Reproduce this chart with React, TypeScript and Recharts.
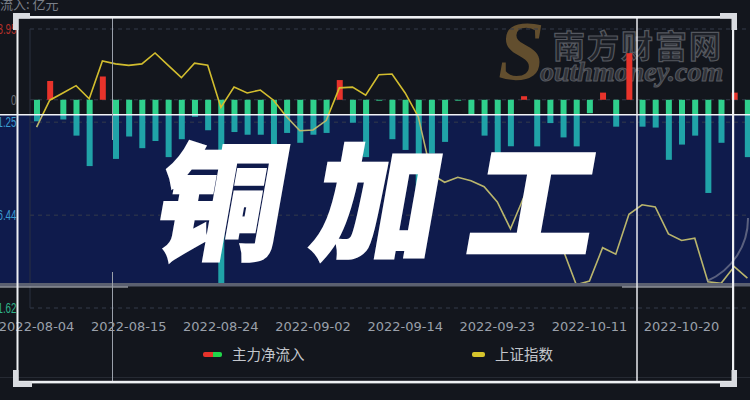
import React from 'react';
import { ComposedChart, Bar, Line, XAxis, YAxis, CartesianGrid, Cell } from 'recharts';

const dates = [
  '2022-08-04','2022-08-05','2022-08-08','2022-08-09','2022-08-10','2022-08-11','2022-08-12','2022-08-15','2022-08-16','2022-08-17',
  '2022-08-18','2022-08-19','2022-08-22','2022-08-23','2022-08-24','2022-08-25','2022-08-26','2022-08-29','2022-08-30','2022-08-31',
  '2022-09-01','2022-09-02','2022-09-05','2022-09-06','2022-09-07','2022-09-08','2022-09-09','2022-09-13','2022-09-14','2022-09-15',
  '2022-09-16','2022-09-19','2022-09-20','2022-09-21','2022-09-22','2022-09-23','2022-09-26','2022-09-27','2022-09-28','2022-09-29',
  '2022-09-30','2022-10-10','2022-10-11','2022-10-12','2022-10-13','2022-10-14','2022-10-17','2022-10-18','2022-10-19','2022-10-20',
  '2022-10-21','2022-10-24','2022-10-25','2022-10-26','2022-10-27',
];

// 主力净流入 (亿元)
const mainFlow = [
  -1.2, 1.05, -1.1, -2.0, -3.7, 1.3, -3.3, -2.05, -2.7, -2.3,
  -3.2, -2.2, -0.95, -1.7, -10.3, -1.8, -1.95, -1.95, -3.6, -1.85,
  -2.4, -1.95, -1.85, 1.1, -1.28, -3.2, -0.05, -2.2, -2.8, -8.0,
  -3.0, -2.35, -0.05, -0.8, -2.0, -3.7, -2.6, 0.2, -2.6, -1.3,
  -2.1, -2.6, -0.75, 0.4, -1.5, 2.6, -1.5, -1.55, -3.35, -2.5,
  -2.0, -5.2, -2.4, 0.4, -3.2,
];

// 上证指数
const sseIndex = [
  3191, 3228, 3238, 3248, 3230, 3282, 3278, 3276, 3278, 3293,
  3276, 3259, 3279, 3276, 3218, 3246, 3238, 3242, 3228, 3205,
  3186, 3187, 3200, 3245, 3246, 3235, 3263, 3264, 3238, 3205,
  3126, 3115, 3122, 3117, 3109, 3088, 3051, 3094, 3045, 3041,
  3022, 2974, 2979, 3025, 3016, 3071, 3084, 3081, 3044, 3035,
  3038, 2978, 2976, 2999, 2983,
];

const flowTicks = [3.95, 0, -1.25, -6.44, -11.62];
const flowTickColors = ['#b3302a', '#6b6f78', '#3a9bd0', '#3a9bd0', '#2fb38a'];

const data = dates.map((d, i) => ({ date: d, flow: mainFlow[i], sse: sseIndex[i] }));

const FlowTick = (props: any) => {
  const { x, y, payload } = props;
  const v = payload.value as number;
  const idx = flowTicks.indexOf(v);
  const label = v === 0 ? '0' : v.toFixed(2);
  return (
    <text
      transform={`translate(${x},${y}) scale(0.7,1)`}
      x={0}
      y={0}
      dy={5}
      textAnchor="end"
      fill={flowTickColors[idx] || '#888'}
      fontSize={14}
      fontFamily="Liberation Sans"
    >
      {label}
    </text>
  );
};

const abs = (s: React.CSSProperties): React.CSSProperties => ({ position: 'absolute', ...s });

export default function App() {
  return (
    <div style={abs({ left: 0, top: 0, width: 750, height: 400, overflow: 'hidden', background: '#13161d', fontFamily: 'Noto Sans CJK SC, sans-serif' })}>
      {/* navy band */}
      <div style={abs({ left: 0, top: 115, width: 750, height: 169, background: '#0f1b4c' })} />

      {/* watermark */}
      <div style={abs({ left: 498, top: 10, fontSize: 84, fontFamily: 'Liberation Serif', fontStyle: 'italic', fontWeight: 700, color: '#624e2e', lineHeight: 1 })}>S</div>
      <div style={abs({ left: 553, top: 28, fontSize: 32, letterSpacing: 2, fontWeight: 700, color: '#1f2229', WebkitTextStroke: '1.2px #55585f', lineHeight: 1, whiteSpace: 'nowrap' })}>南方财富网</div>
      <div style={abs({ left: 540, top: 58, fontSize: 28, fontFamily: 'Liberation Serif', fontStyle: 'italic', fontWeight: 700, color: '#303238', WebkitTextStroke: '1px #55585f', lineHeight: 1, whiteSpace: 'nowrap' })}>outhmoney.com</div>

      {/* unit label */}
      <div style={abs({ left: -13, top: -3, fontSize: 13, color: '#7a7f88', whiteSpace: 'nowrap', lineHeight: '13px' })}>净流入: 亿元</div>

      <div style={abs({ left: 0, top: 0 })}>
        <ComposedChart width={760} height={400} data={data} margin={{ top: 29, right: 6, left: 0, bottom: 62 }} barCategoryGap={0}>
          <defs>
            <linearGradient id="negGrad" gradientUnits="userSpaceOnUse" x1="0" y1="0" x2="0" y2="400">
              <stop offset="0" stopColor="#2fd08c" />
              <stop offset="0.2875" stopColor="#2fd08c" />
              <stop offset="0.2875" stopColor="#20a3a8" />
              <stop offset="1" stopColor="#20a3a8" />
            </linearGradient>
            <linearGradient id="lineGrad" gradientUnits="userSpaceOnUse" x1="0" y1="0" x2="0" y2="400">
              <stop offset="0" stopColor="#d2bd2e" />
              <stop offset="0.2875" stopColor="#d2bd2e" />
              <stop offset="0.2875" stopColor="#b9b56c" />
              <stop offset="1" stopColor="#b9b56c" />
            </linearGradient>
          </defs>
          <CartesianGrid horizontal vertical={false} stroke="#353b4a" strokeDasharray="4 4" yAxisId="flow" />
          <XAxis
            dataKey="date"
            interval={6}
            tickLine={false}
            axisLine={false}
            tickSize={0}
            tickMargin={14}
            tick={{ fill: '#9aa0aa', fontSize: 13, fontFamily: 'DejaVu Sans' }}
          />
          <YAxis
            yAxisId="flow"
            width={30}
            domain={[-11.62, 3.95]}
            ticks={flowTicks}
            interval={0}
            tickLine={false}
            axisLine={{ stroke: '#2a3040' }}
            tickSize={0}
            tickMargin={13.5}
            tick={<FlowTick />}
            allowDataOverflow
          />
          <YAxis yAxisId="sse" orientation="right" hide domain={[2942, 3326]} allowDataOverflow />
          <Bar yAxisId="flow" dataKey="flow" barSize={6} isAnimationActive={false}>
            {data.map((d, i) => (
              <Cell key={i} fill={d.flow >= 0 ? '#e8332b' : 'url(#negGrad)'} />
            ))}
          </Bar>
          <Line yAxisId="sse" dataKey="sse" type="linear" stroke="url(#lineGrad)" strokeWidth={1.6} dot={false} activeDot={false} isAnimationActive={false} />
        </ComposedChart>
      </div>

      {/* decorations */}
      <svg width={750} height={400} style={abs({ left: 0, top: 0, pointerEvents: 'none' })}>
        <line x1={0} y1={114.8} x2={750} y2={114.8} stroke="#f2f4f7" strokeWidth={1.5} />
        <rect x={0} y={283} width={750} height={3.5} fill="#5b6070" />
        <line x1={0} y1={287} x2={128} y2={287} stroke="#c5c8d0" strokeWidth={1} />
        <line x1={622} y1={287} x2={733} y2={287} stroke="#c5c8d0" strokeWidth={1} />
        <line x1={0} y1={377.5} x2={750} y2={377.5} stroke="#262a33" strokeWidth={1} />
        <path d="M 748 218 A 68 68 0 0 1 707 281" fill="none" stroke="#8c90a0" strokeOpacity={0.6} strokeWidth={2} />
        <line x1={112.5} y1={18} x2={112.5} y2={140} stroke="#9aa0aa" strokeWidth={1} />
        <line x1={112.5} y1={272} x2={112.5} y2={383} stroke="#9aa0aa" strokeWidth={1} />
        <line x1={637} y1={18} x2={637} y2={383} stroke="#e8eaee" strokeWidth={1.5} />
        {/* frame */}
        <rect x={16.5} y={16} width={717} height={2.6} fill="#eef0f3" />
        <rect x={16.5} y={380.8} width={717} height={2.6} fill="#eef0f3" />
        <rect x={16.5} y={16} width={2} height={368} fill="#eef0f3" />
        <rect x={732} y={16} width={2.2} height={368} fill="#eef0f3" />
        {/* corners */}
        <rect x={13} y={13} width={17} height={5.5} fill="#d9dbe0" />
        <rect x={13} y={13} width={5.5} height={17} fill="#d9dbe0" />
        <rect x={13} y={381.5} width={19} height={5.5} fill="#d9dbe0" />
        <rect x={13} y={370} width={5.5} height={17} fill="#d9dbe0" />
        <rect x={720} y={13} width={17} height={5.5} fill="#d9dbe0" />
        <rect x={731.5} y={13} width={5.5} height={17} fill="#d9dbe0" />
        <rect x={720} y={381.5} width={17} height={5.5} fill="#d9dbe0" />
        <rect x={731.5} y={370} width={5.5} height={17} fill="#d9dbe0" />
      </svg>

      {/* legend */}
      <div style={abs({ left: 203, top: 352, width: 10, height: 5, background: '#e8332b', borderRadius: '2px 0 0 2px' })} />
      <div style={abs({ left: 213, top: 352, width: 9, height: 5, background: '#22d64a', borderRadius: '0 2px 2px 0' })} />
      <div style={abs({ left: 232, top: 344, fontSize: 14.5, color: '#c3c6cc', lineHeight: '20px', whiteSpace: 'nowrap' })}>主力净流入</div>
      <div style={abs({ left: 472, top: 351.5, width: 13, height: 5, background: '#d6c42c', borderRadius: 2 })} />
      <div style={abs({ left: 495, top: 344, fontSize: 14.5, color: '#c3c6cc', lineHeight: '20px', whiteSpace: 'nowrap' })}>上证指数</div>

      {/* title */}
      <div style={abs({ left: 150, top: 131, fontSize: 126, fontWeight: 900, letterSpacing: 30, color: '#ffffff', WebkitTextStroke: '3px #ffffff', lineHeight: 1, whiteSpace: 'nowrap', transform: 'skewX(-10deg)', transformOrigin: '0 100%', fontFamily: 'Noto Sans CJK SC' })}>铜加工</div>
    </div>
  );
}
